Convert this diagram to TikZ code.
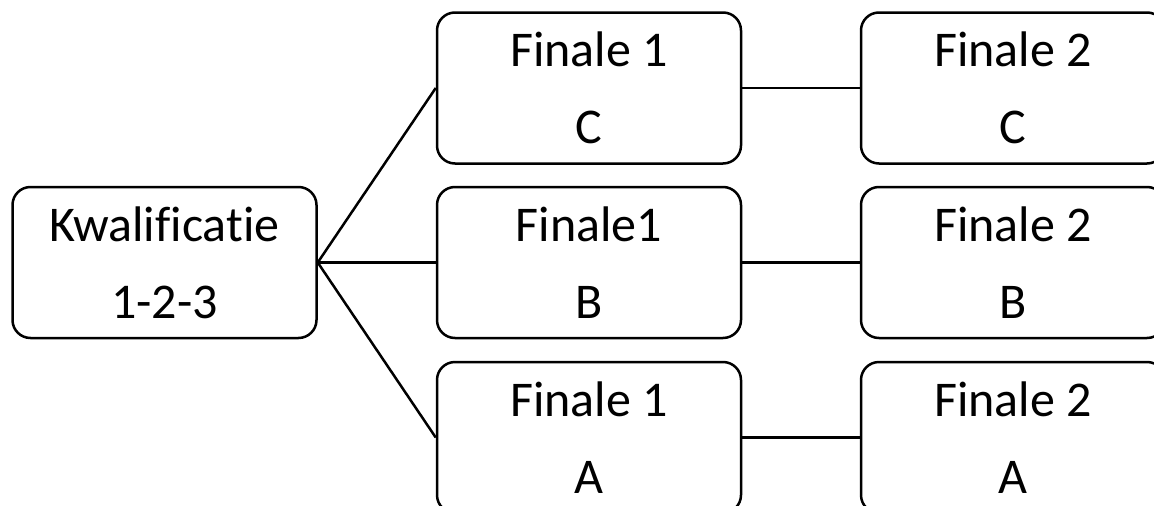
\documentclass[tikz,border=0pt]{standalone}
\usepackage{fontspec}
\setmainfont{Carlito}[Ligatures={NoCommon,NoRequired,NoContextual}]
\usetikzlibrary{positioning}

\begin{document}
\begin{tikzpicture}[
    x=1pt, y=-1pt,
    line width=2.5pt,
    stage/.style={
      rectangle, draw=black, fill=white,
      minimum width=304pt, minimum height=151pt,
      rounded corners=18pt, inner sep=0pt,
      align=center, font=\fontsize{50}{77}\selectfont,
    },
    link/.style={line width=2.5pt, black},
  ]
  \clip (0,0) rectangle (1154,506);

  \node[stage] (kwal) at (164.5,262.5) {Kwalificatie\\1-2-3};

  \node[stage] (f1c) at (589,88) {Finale 1\\C};
  \node[stage] (f1b) at (589,262.5) {Finale1\\B};
  \node[stage] (f1a) at (589,437.5) {Finale 1\\A};

  \node[stage] (f2c) at (1013,88) {Finale 2\\C};
  \node[stage] (f2b) at (1013,262.5) {Finale 2\\B};
  \node[stage] (f2a) at (1013,437.5) {Finale 2\\A};

  \draw[link] (kwal.east) -- (f1c.west);
  \draw[link] (kwal.east) -- (f1b.west);
  \draw[link] (kwal.east) -- (f1a.west);
  \draw[link] (f1c) -- (f2c);
  \draw[link] (f1b) -- (f2b);
  \draw[link] (f1a) -- (f2a);
\end{tikzpicture}
\end{document}
